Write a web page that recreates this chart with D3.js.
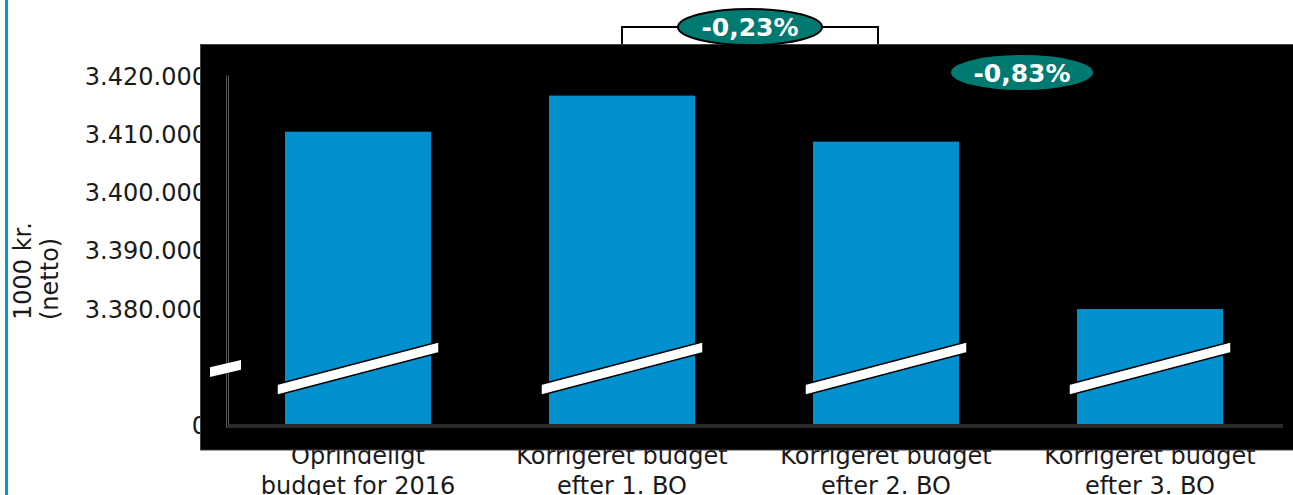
<!DOCTYPE html>
<html>
<head>
<meta charset="utf-8">
<script src="https://cdn.jsdelivr.net/npm/d3@7"></script>
<style>
  html, body { margin: 0; padding: 0; background: #ffffff; }
  svg { display: block; }
  text { font-family: "DejaVu Sans", Verdana, sans-serif; }
</style>
</head>
<body>
<svg id="chart" width="1293" height="495"></svg>
<script>
// ---- data ----
const categories = [
  "Oprindeligt\nbudget for 2016",
  "Korrigeret budget\nefter 1. BO",
  "Korrigeret budget\nefter 2. BO",
  "Korrigeret budget\nefter 3. BO"
];
const values = [3410350, 3416550, 3408650, 3379900];
const tickValues = [3360000, 3380000, 3390000, 3400000, 3410000, 3420000];
const tickLabels = ["0", "3.380.000", "3.390.000", "3.400.000", "3.410.000", "3.420.000"];
const axisTitle = ["1000 kr.", "(netto)"];
const changeLabels = ["-0,23%", "-0,83%"];

// ---- layout ----
const W = 1293, H = 495;
const svg = d3.select("#chart");
const plot = { left: 226, right: 1282, top: 75.5, bottom: 425 };
const x = d3.scaleBand().domain(categories)
  .range([plot.left, plot.right])
  .paddingInner(0.447).paddingOuter(0.2235);
const y = d3.scaleLinear().domain([3360000, 3420000]).range([plot.bottom, plot.top]);
const bw = x.bandwidth();
const cx = c => x(c) + bw / 2;

const BAR = "#0090ce", TEAL = "#007a70";

svg.append("rect").attr("width", W).attr("height", H).attr("fill", "#fff");
// left blue border
svg.append("rect").attr("x", 5).attr("y", 0).attr("width", 3).attr("height", H).attr("fill", "#0096d6");

// axis title (rotated)
const tg = svg.append("g").attr("transform", "translate(0,320) rotate(-90)");
axisTitle.forEach((t, i) => {
  tg.append("text").attr("x", 0).attr("y", 31 + i * 27)
    .attr("font-size", 24).attr("fill", "#1a1a1a").text(t);
});

// y tick labels
const yAxis = d3.axisLeft(y).tickValues(tickValues)
  .tickFormat((d, i) => tickLabels[i]).tickSize(0).tickPadding(0);
const yg = svg.append("g").attr("transform", "translate(207,0)").call(yAxis);
yg.select(".domain").remove();
yg.selectAll("text").attr("font-size", 24).attr("fill", "#1a1a1a")
  .attr("font-family", "DejaVu Sans, Verdana, sans-serif").attr("dy", "0.36em");

// x labels
const xg = svg.append("g");
categories.forEach(c => {
  c.split("\n").forEach((line, i) => {
    xg.append("text").attr("x", cx(c)).attr("y", 464 + i * 29.5)
      .attr("text-anchor", "middle").attr("font-size", 24).attr("fill", "#1a1a1a").text(line);
  });
});

// bracket for first change
const bx1 = cx(categories[1]), bx2 = cx(categories[2]) - 8;
svg.append("path")
  .attr("d", `M${bx1},46 V27 H${bx2} V46`)
  .attr("fill", "none").attr("stroke", "#000").attr("stroke-width", 2);

// black plot background
svg.append("rect").attr("x", 200.5).attr("y", 44.5).attr("width", W - 200).attr("height", 405.5)
  .attr("fill", "#000").attr("stroke", "#404040").attr("stroke-width", 1);

// axis lines (double gray look)
const axisPath = `M${plot.left + 1.5},${plot.top} V${plot.bottom + 1} H${plot.right + 1}`;
svg.append("path").attr("d", axisPath).attr("fill", "none").attr("stroke", "#555").attr("stroke-width", 3);
svg.append("path").attr("d", axisPath).attr("fill", "none").attr("stroke", "#000").attr("stroke-width", 1);

// bars
svg.append("g").selectAll("rect").data(values).join("rect")
  .attr("x", (d, i) => x(categories[i]))
  .attr("y", d => y(d))
  .attr("width", bw)
  .attr("height", d => plot.bottom - 1 - y(d))
  .attr("fill", BAR);

// break marks
const breakY = y(3369700);
const hw = 81, dy = 21.25, th = 5.5;
categories.forEach(c => {
  const m = cx(c);
  svg.append("polygon")
    .attr("points", [
      [m - hw, breakY + dy - th], [m + hw, breakY - dy - th],
      [m + hw, breakY - dy + th], [m - hw, breakY + dy + th]
    ].map(p => p.join(",")).join(" "))
    .attr("fill", "#fff").attr("stroke", "#000").attr("stroke-width", 1.5);
});
// axis break
{
  const m = plot.left - 0.5, h = 15.5, d = 3.6, t = 4.8;
  svg.append("polygon")
    .attr("points", [
      [m - h, breakY + d - t], [m + h, breakY - d - t],
      [m + h, breakY - d + t], [m - h, breakY + d + t]
    ].map(p => p.join(",")).join(" "))
    .attr("fill", "#fff");
}

// change ellipses
const e1x = (bx1 + bx2) / 2;
svg.append("ellipse").attr("cx", e1x).attr("cy", 27).attr("rx", 72).attr("ry", 18)
  .attr("fill", TEAL).attr("stroke", "#000").attr("stroke-width", 2);
svg.append("text").attr("x", e1x).attr("y", 27).attr("dy", "0.36em")
  .attr("text-anchor", "middle").attr("font-size", 25).attr("font-weight", "bold")
  .attr("fill", "#fff").text(changeLabels[0]);

const e2x = (cx(categories[2]) + cx(categories[3])) / 2 + 4;
const e2y = y(3420000) - 3;
svg.append("ellipse").attr("cx", e2x).attr("cy", e2y).attr("rx", 71).attr("ry", 17.5)
  .attr("fill", TEAL);
svg.append("text").attr("x", e2x).attr("y", e2y).attr("dy", "0.36em")
  .attr("text-anchor", "middle").attr("font-size", 25).attr("font-weight", "bold")
  .attr("fill", "#fff").text(changeLabels[1]);
</script>
</body>
</html>
